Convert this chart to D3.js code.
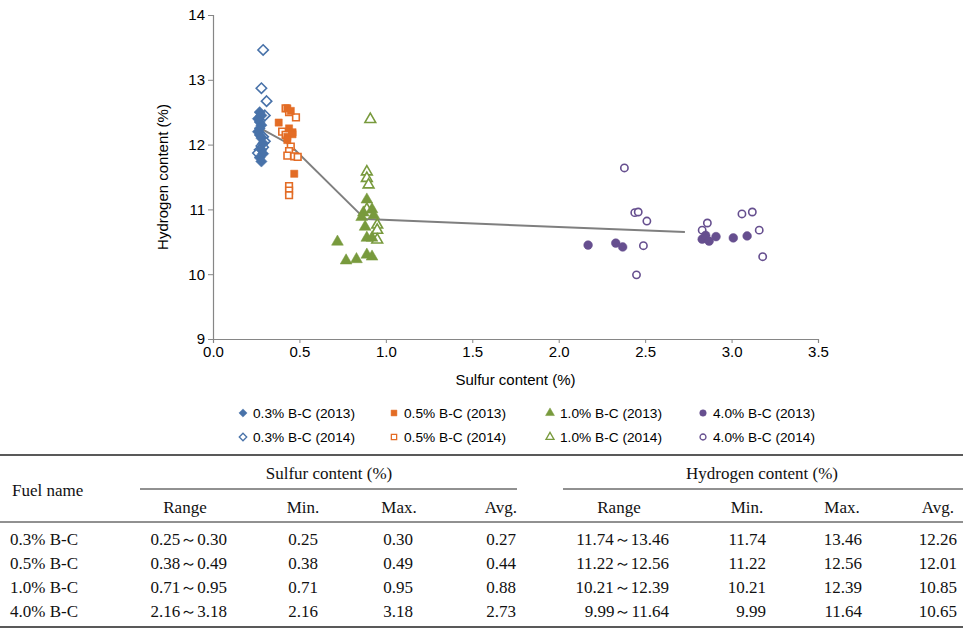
<!DOCTYPE html>
<html>
<head>
<meta charset="utf-8">
<script src="https://cdn.jsdelivr.net/npm/d3@7"></script>
<style>
  body { margin: 0; background: #fff; }
  .axis text { font-family: "Liberation Sans", Arial, sans-serif; font-size: 15px; fill: #000; }
  .axis path, .axis line { stroke: #868686; }
  .legend text { font-family: "Liberation Sans", Arial, sans-serif; font-size: 13.7px; fill: #000; }
  .tbl text { font-family: "Liberation Serif", "Times New Roman", serif; font-size: 17px; fill: #111; }
</style>
</head>
<body>
<div id="chart"></div>
<script>
// series: [sulfur %, hydrogen %]
const bc03_2013 = [[0.27,12.50],[0.28,12.45],[0.26,12.40],[0.27,12.35],[0.28,12.30],[0.27,12.25],[0.26,12.20],[0.27,12.15],[0.28,12.10],[0.29,12.02],[0.28,11.92],[0.29,11.86],[0.27,11.80],[0.28,11.74]];
const bc03_2014 = [[0.29,13.46],[0.28,12.87],[0.31,12.67],[0.30,12.45],[0.29,12.12],[0.30,12.05],[0.28,11.98],[0.27,11.92],[0.26,11.87],[0.29,11.96]];
const bc05_2013 = [[0.38,12.34],[0.43,12.56],[0.45,12.52],[0.44,12.25],[0.46,12.19],[0.43,12.12],[0.46,12.16],[0.43,12.07],[0.47,11.55]];
const bc05_2014 = [[0.42,12.56],[0.44,12.50],[0.48,12.42],[0.40,12.20],[0.42,12.15],[0.45,11.97],[0.44,11.90],[0.43,11.83],[0.47,11.82],[0.49,11.81],[0.44,11.36],[0.44,11.29],[0.44,11.22]];
const bc10_2013 = [[0.89,11.15],[0.87,10.95],[0.92,11.00],[0.93,10.91],[0.86,10.88],[0.88,10.73],[0.89,10.56],[0.92,10.56],[0.72,10.50],[0.77,10.21],[0.83,10.23],[0.89,10.30],[0.92,10.27]];
const bc10_2014 = [[0.91,12.39],[0.89,11.58],[0.89,11.48],[0.90,11.38],[0.89,11.00],[0.95,10.76],[0.95,10.68],[0.95,10.53]];
const bc40_2013 = [[2.17,10.45],[2.33,10.48],[2.37,10.42],[2.83,10.54],[2.85,10.60],[2.87,10.51],[2.91,10.58],[3.01,10.56],[3.09,10.59]];
const bc40_2014 = [[2.38,11.64],[2.44,10.95],[2.46,10.96],[2.51,10.82],[2.49,10.44],[2.45,9.99],[2.83,10.68],[2.86,10.79],[3.06,10.93],[3.12,10.96],[3.16,10.68],[3.18,10.27]];
// trend through averages
const avgLine = [[0.27,12.26],[0.44,12.01],[0.88,10.85],[2.73,10.65]];

const xTicks = [0, 0.5, 1.0, 1.5, 2.0, 2.5, 3.0, 3.5];
const yTicks = [9, 10, 11, 12, 13, 14];

// table
const fuelNames = ['0.3% B-C', '0.5% B-C', '1.0% B-C', '4.0% B-C'];
const sulfurRange = ['0.25～0.30', '0.38～0.49', '0.71～0.95', '2.16～3.18'];
const sulfurMin = ['0.25', '0.38', '0.71', '2.16'];
const sulfurMax = ['0.30', '0.49', '0.95', '3.18'];
const sulfurAvg = ['0.27', '0.44', '0.88', '2.73'];
const hydroRange = ['11.74～13.46', '11.22～12.56', '10.21～12.39', '9.99～11.64'];
const hydroMin = ['11.74', '11.22', '10.21', '9.99'];
const hydroMax = ['13.46', '12.56', '12.39', '11.64'];
const hydroAvg = ['12.26', '12.01', '10.85', '10.65'];

const width = 967, height = 634;
const svg = d3.select('#chart').append('svg')
  .attr('width', width).attr('height', height)
  .style('background', '#fff');

const x = d3.scaleLinear().domain([0, 3.5]).range([213, 818]);
const y = d3.scaleLinear().domain([9, 14]).range([339, 15]);

// axes
svg.append('g').attr('class', 'axis')
  .attr('transform', `translate(${x(0)},0)`)
  .call(d3.axisLeft(y).tickValues(yTicks).tickFormat(d3.format('d')).tickSize(5).tickPadding(3));
svg.append('g').attr('class', 'axis')
  .attr('transform', `translate(0,${y(9)})`)
  .call(d3.axisBottom(x).tickValues(xTicks).tickFormat(d3.format('.1f')).tickSize(4).tickPadding(3));
svg.selectAll('.axis .domain').attr('stroke-width', 1.2);

svg.append('text')
  .attr('transform', `translate(168,${(y(9) + y(14)) / 2}) rotate(-90)`)
  .attr('text-anchor', 'middle')
  .style('font-family', '"Liberation Sans", Arial, sans-serif').style('font-size', '15px')
  .text('Hydrogen content (%)');
svg.append('text')
  .attr('x', (x(0) + x(3.5)) / 2).attr('y', 385)
  .attr('text-anchor', 'middle')
  .style('font-family', '"Liberation Sans", Arial, sans-serif').style('font-size', '15px')
  .text('Sulfur content (%)');

// trend line
svg.append('path')
  .datum(avgLine)
  .attr('fill', 'none').attr('stroke', '#7f7f7f').attr('stroke-width', 2)
  .attr('d', d3.line().x(d => x(d[0])).y(d => y(d[1])));

const diamond = {
  draw(ctx, size) {
    const r = Math.sqrt(size / 2);
    ctx.moveTo(0, -r); ctx.lineTo(r, 0); ctx.lineTo(0, r); ctx.lineTo(-r, 0); ctx.closePath();
  }
};

const series = [
  { name: '0.3% B-C (2013)', data: bc03_2013, color: '#4872a9', shape: diamond, size: 64, fill: true },
  { name: '0.5% B-C (2013)', data: bc05_2013, color: '#e36c25', shape: d3.symbolSquare, size: 52, fill: true },
  { name: '1.0% B-C (2013)', data: bc10_2013, color: '#789a3d', shape: d3.symbolTriangle, size: 60, fill: true },
  { name: '4.0% B-C (2013)', data: bc40_2013, color: '#664f8f', shape: d3.symbolCircle, size: 60, fill: true },
  { name: '0.3% B-C (2014)', data: bc03_2014, color: '#4872a9', shape: diamond, size: 54, fill: false },
  { name: '0.5% B-C (2014)', data: bc05_2014, color: '#e36c25', shape: d3.symbolSquare, size: 44, fill: false },
  { name: '1.0% B-C (2014)', data: bc10_2014, color: '#789a3d', shape: d3.symbolTriangle, size: 50, fill: false },
  { name: '4.0% B-C (2014)', data: bc40_2014, color: '#664f8f', shape: d3.symbolCircle, size: 42, fill: false }
];

// open markers first, filled on top
[4, 5, 6, 7, 0, 1, 2, 3].forEach(i => {
  const s = series[i];
  svg.append('g').selectAll('path')
    .data(s.data)
    .join('path')
    .attr('transform', d => `translate(${x(d[0])},${y(d[1])})`)
    .attr('d', d3.symbol().type(s.shape).size(s.size))
    .attr('fill', s.fill ? s.color : '#fff')
    .attr('stroke', s.color)
    .attr('stroke-width', s.fill ? 0.5 : 1.6);
});

// legend
const legendX = [243, 394, 550, 703];
const legendY = [413, 437];
const legend = svg.append('g').attr('class', 'legend');
series.forEach((s, i) => {
  const lx = legendX[i % 4], ly = legendY[Math.floor(i / 4)];
  legend.append('path')
    .attr('transform', `translate(${lx},${ly})`)
    .attr('d', d3.symbol().type(s.shape).size(s.fill ? 34 : 28))
    .attr('fill', s.fill ? s.color : '#fff')
    .attr('stroke', s.color)
    .attr('stroke-width', s.fill ? 0.5 : 1.3);
  legend.append('text')
    .attr('x', lx + 10).attr('y', ly + 5)
    .text(s.name);
});

// table
const tbl = svg.append('g').attr('class', 'tbl');
const hline = (x1, x2, yy, w) => tbl.append('line')
  .attr('x1', x1).attr('x2', x2).attr('y1', yy).attr('y2', yy)
  .attr('stroke', '#222').attr('stroke-width', w);
hline(0, 963, 455, 1.3);
hline(140, 517, 489, 1);
hline(563, 963, 489, 1);
hline(0, 963, 522, 1);
hline(0, 963, 627, 1.3);

const txt = (t, tx, ty, anchor) => tbl.append('text')
  .attr('x', tx).attr('y', ty).attr('text-anchor', anchor).text(t);

txt('Fuel name', 12, 496, 'start');
txt('Sulfur content (%)', 329, 479, 'middle');
txt('Hydrogen content (%)', 762, 479, 'middle');

const headCols = [
  ['Range', 185], ['Min.', 303], ['Max.', 399], ['Avg.', 501],
  ['Range', 619], ['Min.', 747], ['Max.', 842], ['Avg.', 938]
];
headCols.forEach(([t, cx]) => txt(t, cx, 513, 'middle'));

const rowY = [545, 569, 593, 617];
const cols = [
  [sulfurRange, 227], [sulfurMin, 318], [sulfurMax, 413], [sulfurAvg, 516],
  [hydroRange, 669], [hydroMin, 766], [hydroMax, 862], [hydroAvg, 957]
];
fuelNames.forEach((f, r) => {
  txt(f, 10, rowY[r], 'start');
  cols.forEach(([arr, rx]) => txt(arr[r], rx, rowY[r], 'end'));
});
</script>
</body>
</html>
